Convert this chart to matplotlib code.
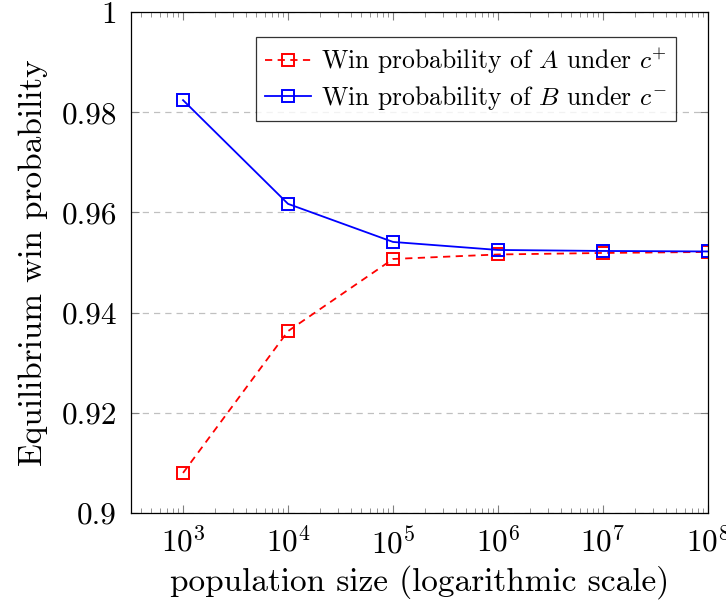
import matplotlib.pyplot as plt
import numpy as np
from matplotlib.ticker import LogLocator, FixedLocator

plt.rcParams['font.family'] = 'serif'
plt.rcParams['font.serif'] = ['cmr10']
plt.rcParams['mathtext.fontset'] = 'cm'
plt.rcParams['axes.formatter.use_mathtext'] = True

population = [1e3, 1e4, 1e5, 1e6, 1e7, 1e8]
win_a_plus = [0.9080, 0.9363, 0.9507, 0.9516, 0.9519, 0.9521]
win_b_minus = [0.9824, 0.9617, 0.9541, 0.9525, 0.9523, 0.9522]
y_ticks = [0.9, 0.92, 0.94, 0.96, 0.98, 1.0]
y_labels = ['0.9', '0.92', '0.94', '0.96', '0.98', '1']

fig = plt.figure(figsize=(7.26, 6.11), dpi=100)
ax = fig.add_axes([0.1804, 0.1604, 0.7948, 0.82])

ax.plot(population, win_a_plus, color='red', linestyle=(0, (4, 3)), linewidth=1.3,
        marker='s', markersize=8, markerfacecolor='none', markeredgewidth=1.4,
        label=r'Win probability of $A$ under $c^{+}$')
ax.plot(population, win_b_minus, color='blue', linestyle='-', linewidth=1.3,
        marker='s', markersize=8, markerfacecolor='none', markeredgewidth=1.4,
        label=r'Win probability of $B$ under $c^{-}$')

ax.set_xscale('log')
ax.set_xlim(10 ** 2.504, 1e8)
ax.set_ylim(0.9, 1.0)
ax.xaxis.set_major_locator(FixedLocator(population))
ax.xaxis.set_minor_locator(LogLocator(base=10, subs=np.arange(2, 10), numticks=20))
ax.set_xticklabels([r'$10^{%d}$' % int(np.log10(p)) for p in population])
ax.set_yticks(y_ticks)
ax.set_yticklabels(y_labels)

ax.yaxis.grid(True, linestyle=(0, (5, 4)), color='#c0c0c0', linewidth=0.9)
ax.set_axisbelow(True)
ax.tick_params(which='both', direction='in', top=True, right=True, colors='#808080',
               labelcolor='black', labelsize=22.5, pad=10)
ax.tick_params(which='major', length=6)
ax.tick_params(which='minor', length=3.5)
for s in ax.spines.values():
    s.set_linewidth(0.9)

ax.set_xlabel('population size (logarithmic scale)', fontsize=24, labelpad=4)
ax.set_ylabel('Equilibrium win probability', fontsize=24, labelpad=10)

leg = ax.legend(loc='upper right', bbox_to_anchor=(0.945, 0.95), fontsize=18.5,
                frameon=True, fancybox=False, edgecolor='black', handlelength=1.8,
                handletextpad=0.4, borderpad=0.35, labelspacing=0.3,
                borderaxespad=0)
leg.get_frame().set_linewidth(0.9)

fig.savefig('out.png', dpi=100)
